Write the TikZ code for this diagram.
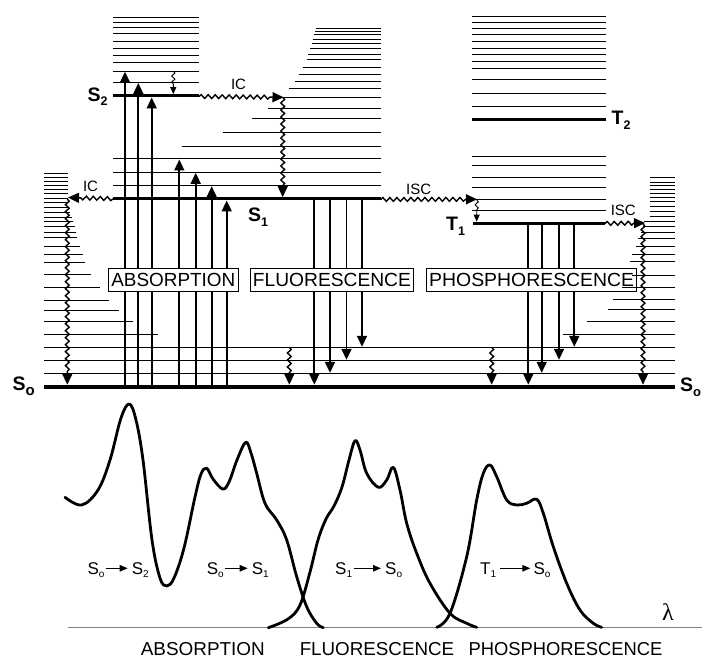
\documentclass[tikz,border=0pt]{standalone}
\usepackage{fontspec}
\setmainfont{Liberation Sans}
\newfontfamily\grserif{Liberation Serif}
\usetikzlibrary{arrows.meta,decorations.pathmorphing,calc}
\newcommand\fsz[1]{\fontsize{#1}{#1}\selectfont}
\begin{document}
\begin{tikzpicture}[x=1pt,y=-1pt,
 lev/.style={line width=1pt},
 thk/.style={line width=3.4pt},
 rad/.style={line width=1.7pt,-{Triangle[length=11pt,width=10pt]}},
 wav/.style={line width=1.4pt,decorate,decoration={snake,amplitude=1.9pt,segment length=7pt,post length=11pt},-{Triangle[length=11pt,width=10pt]}},
 swav/.style={line width=0.9pt,decorate,decoration={snake,amplitude=1.6pt,segment length=6pt,post length=9pt},-{Triangle[length=7pt,width=6pt]}},
 boxlab/.style={draw,line width=0.8pt,fill=white,inner sep=0pt,text height=13.6pt,text depth=0pt,minimum height=23pt,font=\fsz{19}},
 stlab/.style={inner sep=0pt,anchor=base west,font=\fsz{19.5}\bfseries},
 smlab/.style={inner sep=0pt,anchor=base,font=\fsz{15}},
 splab/.style={inner sep=0pt,anchor=base west,font=\fsz{17}},
 larr/.style={line width=1.2pt,-{Triangle[length=8pt,width=6.5pt]}},
 spec/.style={line width=2.8pt,line join=round,line cap=round},
 btlab/.style={inner sep=0pt,anchor=base,font=\fsz{18.7}}
]
\useasboundingbox (0,0) rectangle (702,658);

% ---------- vibrational levels ----------
% S2 block
\foreach \y in {17.3,22.7,28,33.3,41.3,48.7,55.7,62.5,71.2,82.5}
  \draw[lev] (113,\y) -- (199,\y);
% S1 block
\foreach \y/\x in {28.3/316,31.7/315.3,35/314,39.3/312.7,43.3/311.7,49/310,54.3/308.3,60/306.7,67.7/302.7,74.3/299.3,81.7/295,88.3/289.3,97.3/283,108.3/268.3,119/251.7,132.7/222.7,146.7/181.7,159/113,172.3/113,185.7/113}
  \draw[lev] (\x,\y) -- (380.7,\y);
% triplet block
\foreach \y in {16.7,22.3,28.3,34.3,41.7,48.3,55,61.7,69,79.7,93.3,106.7,156.7,165.3,177.3,187.5,199.3,210.5}
  \draw[lev] (472,\y) -- (606,\y);
% S0 left block
\foreach \y/\w in {173.3/24,177.7/24,181.7/24,185.7/24,189.5/24,193.5/24,198.3/24,202.7/24,207.7/24,212.7/26,217.7/28,221.7/29,226.7/31,232.3/32,237.7/33,246.3/36,254.3/39,262.3/41,274.3/47,287.7/56,300/65,310/75,321/89,334.3/114}
  \draw[lev] (44,\y) -- ++(\w,0);
% full width levels
\foreach \y in {347.3,360.5,373.3}
  \draw[lev] (44,\y) -- (675,\y);

% ---------- electronic levels ----------
\draw[thk] (113,95.8) -- (199,95.8);
\draw[thk] (113,198.8) -- (380.7,198.8);
\draw[thk] (472,119.3) -- (606,119.3);
\draw[thk] (473,223.3) -- (605,223.3);
\draw[thk,line width=4pt] (44,386.7) -- (675,386.7);

% ---------- radiative transitions ----------
\foreach \x/\t in {125/71.7,138.3/83,151.7/97.5,179.3/159.5,195.7/172.8,211.7/186.2,226.7/200.5}
  \draw[rad] (\x,385) -- (\x,\t);
\foreach \x/\t in {314.3/384.7,330/372.8,346.5/359.8,362/346.8}
  \draw[rad] (\x,200) -- (\x,\t);
\foreach \x/\t in {528.3/384.7,541.7/372.8,559/359.8,574.3/346.8}
  \draw[rad] (\x,224.5) -- (\x,\t);

% ---------- non-radiative transitions ----------
\draw[wav] (199,96.5) -- (283.5,97.3);
\draw[wav] (282.7,97.3) -- (282.7,197.1);
\draw[wav] (113,198.8) -- (68,197.5);
\draw[wav] (67.3,199) -- (67.3,384.7);
\draw[wav] (380.7,199.5) -- (477,199.3);
\draw[swav] (476.7,200) -- (476.7,221.6);
\draw[wav] (605,223.5) -- (645,223);
\draw[wav] (643,224) -- (643,384.7);
\draw[swav] (173.3,71.2) -- (173.3,94.1);
\draw[wav] (289.3,347.3) -- (289.3,384.7);
\draw[wav] (491.7,347.3) -- (491.7,384.7);

% ---------- boxed labels ----------
\node[boxlab,minimum width=130pt] (absbox) at (173.3,279.5) {\resizebox{124pt}{\height}{ABSORPTION}};
\node[boxlab,minimum width=162.3pt] (flubox) at (331.9,279.5) {\resizebox{158pt}{\height}{FLUORESCENCE}};
\node[boxlab,minimum width=210pt] (phobox) at (531.7,279.4) {\resizebox{205pt}{\height}{PHOSPHORESCENCE}};

% S0 right block (drawn over the box)
\foreach \y/\w in {177.3/25,182.7/25,186/25,189.3/25,193.3/25,197.3/25,201.7/25,206.7/25,211.7/25,216.7/25,221.7/31,226.7/32,232.3/34,238.3/37,246.7/39,254.3/43,261.7/45,275.5/43,287.3/53,299.3/62,309.3/67,321.7/88,334/112}
  \draw[lev] (675,\y) -- ++(-\w,0);

% ---------- state labels ----------
\node[stlab] (s2lab) at (87.5,101.7) {S\raisebox{-4.3pt}{\fsz{12.5}2}};
\node[stlab] (s1lab) at (248,221.7) {S\raisebox{-5pt}{\fsz{12.5}1}};
\node[stlab] (s0lab) at (12.5,390) {S\raisebox{-5pt}{\fsz{15}o}};
\node[stlab] (s0rlab) at (680,391.7) {S\raisebox{-5pt}{\fsz{13}o}};
\node[stlab] (t2lab) at (611.5,124.5) {T\raisebox{-5.5pt}{\fsz{12.5}2}};
\node[stlab] (t1lab) at (446,230) {T\raisebox{-5pt}{\fsz{12.5}1}};

\node[smlab] (ic1) at (238.5,90) {IC};
\node[smlab] (ic2) at (90.5,191.7) {IC};
\node[smlab] (isc1) at (418.7,194.3) {ISC};
\node[smlab] (isc2) at (623.3,215.7) {ISC};

% ---------- spectra ----------
\draw[gray,line width=1.3pt] (68.3,627.7) -- (702,627.7);
\node[inner sep=0pt,font=\grserif\fsz{24}] (lam) at (668,611.7) {λ};

\draw[spec] plot[smooth,tension=0.6] coordinates {(65,497.3) (81.7,505) (98,490) (110,460) (121,418) (129.3,404) (136,420) (143,460) (152,540) (160,578) (166.7,586) (174,578) (184,548) (195,497) (201,474) (206.7,468.3) (213,479) (222.7,489) (229,482) (237,460) (245.7,442.3) (251,453) (256.7,473.3) (265,503.3) (276.7,520) (286.7,540) (296.7,576.7) (306.7,606.7) (316.7,623.3) (323.3,627.7)};
\draw[spec] plot[smooth,tension=0.6] coordinates {(268.3,627.7) (288,619) (300,605) (310,572) (318,540) (326,519) (334,506) (342,487) (349,460) (355,440.7) (360,450) (366.7,473.3) (378.3,487.3) (386.7,480) (393.3,467.3) (400,490) (406.7,523.3) (416.7,553.3) (430,583.3) (450,613.3) (466.7,623.3) (476.7,627.3)};
\draw[spec] plot[smooth,tension=0.6] coordinates {(436.7,627.3) (450,613.3) (466.7,556.7) (476.7,500) (483.3,473.3) (490,465) (496.7,476.7) (506.7,500) (516.7,505) (526.7,503.3) (536.7,499.3) (543.3,513.3) (553.3,546.7) (566.7,583.3) (580,610) (593.3,623.3) (601.7,627.3)};

% spectrum labels
\node[splab] (a1) at (87.3,574.3) {S\raisebox{-3.5pt}{\fsz{10}o}};
\node[splab] (a2) at (131.7,574.3) {S\raisebox{-3.5pt}{\fsz{10}2}};
\draw[larr] ($(a1.base east)+(1,-6)$) -- ($(a2.base west)+(-4,-6)$);
\node[splab] (a3) at (206.7,574.3) {S\raisebox{-3.5pt}{\fsz{10}o}};
\node[splab] (a4) at (251.7,574.3) {S\raisebox{-3.5pt}{\fsz{10}1}};
\draw[larr] ($(a3.base east)+(1,-6)$) -- ($(a4.base west)+(-4,-6)$);
\node[splab] (a5) at (335,574.3) {S\raisebox{-3.5pt}{\fsz{10}1}};
\node[splab] (a6) at (385,574.3) {S\raisebox{-3.5pt}{\fsz{10}o}};
\draw[larr] ($(a5.base east)+(2,-6)$) -- ($(a6.base west)+(-4,-6)$);
\node[splab] (a7) at (480,574.3) {T\raisebox{-3.5pt}{\fsz{10}1}};
\node[splab] (a8) at (533.3,574.3) {S\raisebox{-3.5pt}{\fsz{10}o}};
\draw[larr] ($(a7.base east)+(4,-6)$) -- ($(a8.base west)+(-3,-6)$);

\node[btlab] (b1) at (202.8,655.3) {\resizebox{124pt}{\height}{ABSORPTION}};
\node[btlab] (b2) at (377,655.3) {\resizebox{154.5pt}{\height}{FLUORESCENCE}};
\node[btlab] (b3) at (565.5,655.3) {\resizebox{194pt}{\height}{PHOSPHORESCENCE}};
\end{tikzpicture}
\end{document}
